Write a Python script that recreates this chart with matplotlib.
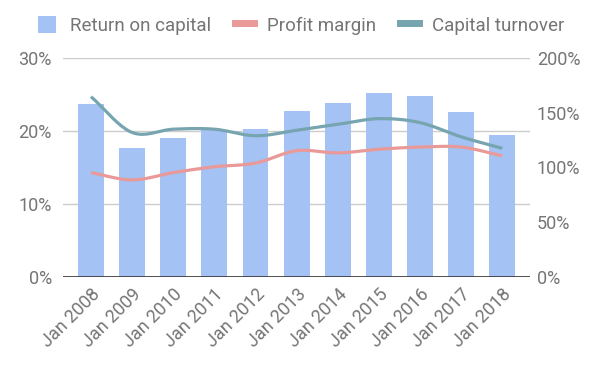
import numpy as np
import matplotlib
matplotlib.use("Agg")
import matplotlib.pyplot as plt
from matplotlib.patches import Patch
from matplotlib.lines import Line2D

plt.rcParams['font.family'] = ['Roboto', 'DejaVu Sans']

years = ["Jan 2008", "Jan 2009", "Jan 2010", "Jan 2011", "Jan 2012", "Jan 2013",
         "Jan 2014", "Jan 2015", "Jan 2016", "Jan 2017", "Jan 2018"]
return_on_capital = [23.7, 17.7, 19.0, 20.2, 20.3, 22.8, 23.9, 25.2, 24.8, 22.6, 19.4]
profit_margin = [14.3, 13.3, 14.3, 15.1, 15.6, 17.3, 17.0, 17.5, 17.8, 17.8, 16.6]
capital_turnover = [164.7, 132.0, 135.0, 135.0, 129.0, 134.0, 139.4, 144.6, 141.0, 128.0, 117.5]

BAR = "#a4c2f4"
PINK = "#ea9999"
TEAL = "#76a5af"
TXT = "#757575"


def smooth(x, y, n=20):
    # catmull-rom through the points, just for the curved look
    x = np.asarray(x, float)
    y = np.asarray(y, float)
    px = np.concatenate([[2 * x[0] - x[1]], x, [2 * x[-1] - x[-2]]])
    py = np.concatenate([[2 * y[0] - y[1]], y, [2 * y[-1] - y[-2]]])
    xs, ys = [], []
    t = np.linspace(0, 1, n, endpoint=False)
    for i in range(1, len(px) - 2):
        for arr, out in ((px, xs), (py, ys)):
            p0, p1, p2, p3 = arr[i - 1], arr[i], arr[i + 1], arr[i + 2]
            out.extend(0.5 * ((2 * p1) + (-p0 + p2) * t
                              + (2 * p0 - 5 * p1 + 4 * p2 - p3) * t ** 2
                              + (-p0 + 3 * p1 - 3 * p2 + p3) * t ** 3))
    xs.append(x[-1])
    ys.append(y[-1])
    return np.array(xs), np.array(ys)


fig = plt.figure(figsize=(6, 3.7), dpi=100)
ax = fig.add_axes([0.105, 0.2514, 0.778, 0.5918])
ax2 = ax.twinx()

x = np.arange(len(years))
ax.bar(x, return_on_capital, width=0.63, color=BAR, zorder=2)
sx, sy = smooth(x, profit_margin)
ax.plot(sx, sy, color=PINK, lw=2.3, zorder=3, solid_capstyle='butt')
tx, ty = smooth(x, capital_turnover)
ax2.plot(tx, ty, color=TEAL, lw=2.3, zorder=3, solid_capstyle='butt')

ax.set_xlim(-0.68, 10.67)
ax.set_ylim(0, 30)
ax2.set_ylim(0, 200)
ax.set_yticks([0, 10, 20, 30])
ax.set_yticklabels(["0%", "10%", "20%", "30%"])
ax2.set_yticks([0, 50, 100, 150, 200])
ax2.set_yticklabels(["0%", "50%", "100%", "150%", "200%"])
ax.set_xticks(x)
ax.set_xticklabels(years, rotation=45, ha='right', rotation_mode='anchor')

for a in (ax, ax2):
    for s in a.spines.values():
        s.set_visible(False)
    a.tick_params(length=0, colors=TXT, labelsize=13)
ax.tick_params(axis='y', pad=8)
ax2.tick_params(axis='y', pad=5)
ax.tick_params(axis='x', pad=6)

ax.yaxis.grid(True, color="#cccccc", lw=1, zorder=0)
ax.set_axisbelow(True)
ax.axhline(0, color="#333333", lw=1.2, zorder=4)

handles = [Patch(facecolor=BAR, edgecolor='none'),
           Line2D([], [], color=PINK, lw=5),
           Line2D([], [], color=TEAL, lw=5)]
fig.legend(handles, ["Return on capital", "Profit margin", "Capital turnover"],
           loc='center', bbox_to_anchor=(0.502, 0.932), ncol=3, frameon=False,
           fontsize=13.5, labelcolor=TXT, handlelength=1.0, handleheight=1.0,
           columnspacing=1.3, handletextpad=0.7)

fig.savefig("out.png", dpi=100)
